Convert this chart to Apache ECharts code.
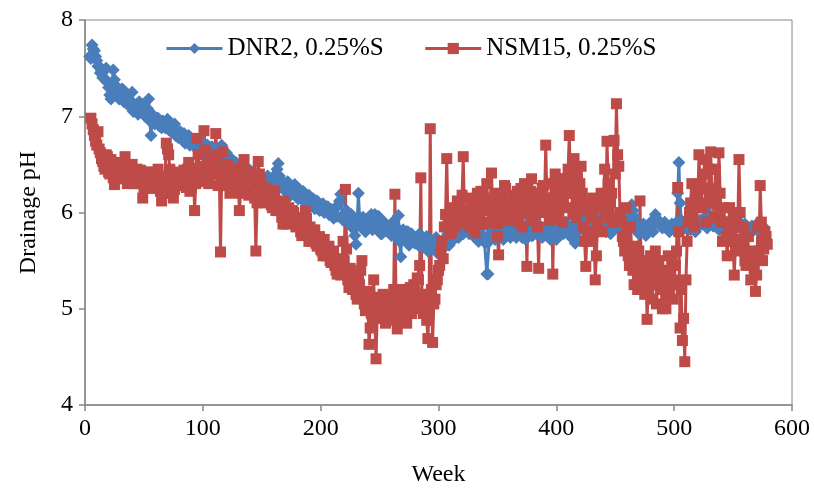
<!DOCTYPE html>
<html><head><meta charset="utf-8">
<script src="https://cdn.jsdelivr.net/npm/echarts@6/dist/echarts.min.js"></script>
<style>html,body{margin:0;padding:0;background:#fff}#c{width:814px;height:492px}</style>
</head><body><div id="c"></div>
<script>
const seriesNames = ['DNR2, 0.25%S', 'NSM15, 0.25%S'];
const xTicks = [0, 100, 200, 300, 400, 500, 600];
const yTicks = [4, 5, 6, 7, 8];
// weekly records: first week of each record, one value per week
const dnrFirstWeek = 4;
const nsmFirstWeek = 5;
const dnr2 = [
7.62,7.60,7.74,7.70,7.68,7.62,7.58,7.52,7.52,7.45,7.47,7.40,7.40,7.48,7.50,7.35,7.30,7.22,7.18,7.30,
7.48,7.38,7.32,7.25,7.25,7.18,7.20,7.28,7.28,7.15,7.15,7.24,7.22,7.12,7.10,7.16,7.25,7.05,7.12,7.08,
7.08,7.02,7.15,7.06,7.05,7.12,7.10,7.00,7.00,7.08,7.18,6.95,6.80,7.02,7.00,6.92,6.95,6.98,6.98,6.90,
6.92,6.88,6.95,6.90,6.88,6.94,6.97,6.86,6.90,6.84,6.85,6.90,6.92,6.80,6.83,6.78,6.80,6.84,6.78,6.75,
6.82,6.72,6.75,6.78,6.80,6.70,6.72,6.76,6.76,6.68,6.70,6.74,6.74,6.66,6.68,6.72,6.72,6.64,6.66,6.70,
6.70,6.62,6.64,6.68,6.68,6.58,6.60,6.65,6.66,6.56,6.58,6.62,6.70,6.52,6.55,6.60,6.62,6.48,6.50,6.56,
6.56,6.46,6.48,6.52,6.52,6.42,6.45,6.50,6.50,6.40,6.42,6.47,6.46,6.36,6.40,6.44,6.44,6.32,6.36,6.30,
6.30,6.36,6.38,6.28,6.32,6.35,6.28,6.24,6.34,6.30,6.30,6.38,6.36,6.22,6.26,6.30,6.32,6.28,6.40,6.45,
6.51,6.38,6.34,6.26,6.28,6.24,6.22,6.30,6.32,6.16,6.18,6.26,6.25,6.20,6.29,6.22,6.20,6.14,6.24,6.18,
6.15,6.22,6.20,6.10,6.12,6.16,6.18,6.06,6.08,6.14,6.14,6.04,6.05,6.12,6.10,6.02,6.04,6.08,6.09,6.00,
6.02,6.05,6.06,5.98,6.00,6.03,5.98,5.94,6.04,5.96,5.96,6.08,6.12,6.19,6.19,5.92,5.95,6.00,6.02,5.90,
5.92,5.96,5.98,5.84,5.88,5.76,5.67,5.90,6.20,5.95,5.85,5.90,5.95,5.82,5.80,5.92,5.90,5.86,5.95,5.98,
5.82,5.92,5.98,5.86,5.88,5.96,5.94,5.78,5.78,5.88,5.90,5.82,5.84,5.80,5.80,5.86,5.76,5.90,5.85,5.80,
5.78,5.84,5.97,5.70,5.54,5.78,5.82,5.72,5.74,5.80,5.80,5.66,5.70,5.78,5.76,5.70,5.68,5.74,5.72,5.66,
5.78,5.72,5.70,5.64,5.65,5.72,5.75,5.60,5.62,5.70,5.70,5.64,5.66,5.72,5.74,5.58,5.60,5.66,5.68,5.62,
5.72,5.68,5.65,5.72,5.78,5.66,5.70,5.76,5.82,5.72,5.75,5.80,5.85,5.74,5.78,5.84,5.88,5.78,5.80,5.86,
5.86,5.80,5.78,5.88,5.92,5.80,5.75,5.82,5.80,5.72,5.70,5.78,5.84,5.74,5.76,5.70,5.68,5.36,5.36,5.70,
5.78,5.82,5.85,5.76,5.72,5.78,5.80,5.84,5.88,5.80,5.76,5.72,5.82,5.86,5.90,5.82,5.78,5.74,5.84,5.80,
5.80,5.76,5.74,5.82,5.86,5.80,5.78,5.74,5.82,5.78,5.72,5.80,5.88,5.84,5.80,5.76,5.76,5.82,5.84,5.78,
5.78,5.82,5.86,5.80,5.74,5.78,5.80,5.86,5.84,5.78,5.76,5.72,5.82,5.86,5.88,5.80,5.72,5.76,5.80,5.84,
5.85,5.80,5.78,5.84,5.90,5.86,5.82,5.76,5.75,5.80,5.86,5.72,5.68,5.74,5.80,5.88,5.95,6.00,6.05,5.98,
5.92,5.96,6.00,5.94,5.88,5.95,6.08,6.02,6.12,6.04,5.96,5.92,5.90,5.86,5.84,5.88,5.88,5.82,5.80,5.84,
5.86,5.82,5.78,5.86,5.92,5.88,5.84,5.88,5.90,5.86,5.82,5.90,5.95,5.90,5.88,5.90,5.92,5.96,6.00,6.04,
6.08,6.02,5.96,5.90,5.85,5.80,5.78,5.80,5.82,5.86,5.88,5.82,5.76,5.80,5.84,5.88,5.90,5.86,5.80,5.92,
5.98,5.94,5.92,5.88,5.88,5.86,5.84,5.88,5.90,5.84,5.86,5.82,5.80,5.84,5.88,5.86,5.82,5.86,5.90,6.20,
6.52,6.10,5.92,5.88,5.86,5.84,5.84,5.88,5.90,5.86,5.82,5.86,5.88,5.84,5.80,5.84,5.86,5.90,5.92,5.88,
5.88,5.92,5.95,5.88,5.84,5.92,6.08,5.96,5.90,5.86,5.86,5.90,5.92,5.86,5.82,5.86,5.88,5.84,5.84,5.88,
5.90,5.86,5.86,5.82,5.80,5.84,5.88,5.86,5.84,5.88,5.92,5.88,5.86,5.82,5.82,5.86,5.88,5.84,5.84,5.82,
5.80,5.84,5.86,5.82,5.82,5.86,5.88,5.84,5.84,5.82,5.80,5.83,5.85
];
const nsm15 = [
6.98,6.92,6.86,6.80,6.74,6.70,6.84,6.66,6.62,6.56,6.53,6.48,6.45,6.60,6.58,6.42,6.40,6.55,6.50,6.36,
6.29,6.38,6.45,6.52,6.38,6.44,6.52,6.35,6.42,6.58,6.35,6.30,6.48,6.40,6.43,6.50,6.30,6.36,6.40,6.45,
6.36,6.30,6.44,6.38,6.15,6.25,6.38,6.42,6.30,6.36,6.42,6.32,6.25,6.40,6.35,6.28,6.40,6.45,6.32,6.22,
6.12,6.20,6.30,6.38,6.72,6.66,6.60,6.45,6.20,6.28,6.15,6.24,6.34,6.42,6.40,6.30,6.28,6.36,6.36,6.44,
6.30,6.26,6.45,6.52,6.22,6.30,6.38,6.46,6.02,6.30,6.77,6.60,6.35,6.42,6.48,6.32,6.85,6.65,6.40,6.34,
6.30,6.45,6.55,6.40,6.42,6.50,6.82,6.60,6.28,6.40,5.59,6.35,6.63,6.48,6.35,6.28,6.50,6.44,6.20,6.32,
6.45,6.36,6.38,6.30,6.25,6.34,6.02,6.20,6.40,6.48,6.55,6.38,6.30,6.22,6.18,6.26,6.42,6.35,6.28,6.15,
5.60,6.10,6.53,6.40,6.35,6.28,6.20,6.15,6.10,6.22,6.25,6.12,6.15,6.08,6.05,6.14,6.22,6.02,6.10,6.06,
6.02,6.10,5.95,5.88,6.12,6.04,5.88,5.96,6.05,5.94,5.92,6.02,6.00,5.90,5.85,5.92,5.95,5.86,5.80,5.76,
5.90,5.84,6.02,5.94,5.78,5.70,5.85,5.80,5.70,5.76,5.82,5.68,5.65,5.72,5.75,5.62,5.60,5.55,5.72,5.64,
5.55,5.62,5.65,5.50,5.48,5.58,5.60,5.45,5.40,5.36,5.52,5.44,5.35,5.42,5.70,5.50,6.24,5.62,5.30,5.22,
5.42,5.32,5.20,5.28,5.35,5.15,5.10,5.22,5.25,5.40,5.50,5.12,5.05,4.98,5.18,5.08,4.63,4.80,4.95,5.02,
5.30,4.90,4.48,4.96,5.05,5.12,4.90,5.00,5.15,5.08,4.85,4.92,5.00,5.10,5.12,4.95,4.88,5.20,6.19,5.00,
4.79,4.92,5.05,5.15,4.92,4.86,5.20,5.10,4.85,5.00,5.10,5.22,4.95,5.05,5.25,5.18,5.00,5.32,5.30,5.45,
6.36,5.10,4.95,5.05,5.15,4.88,4.69,5.00,6.87,5.20,4.65,5.05,5.10,5.25,5.30,5.40,5.45,5.60,5.70,5.52,
5.85,5.98,6.56,5.90,5.95,5.78,5.80,6.00,6.05,5.85,5.90,6.12,6.10,5.92,6.00,6.18,6.58,6.02,5.95,5.88,
6.15,6.00,5.85,6.08,6.05,5.90,5.79,6.12,6.20,5.96,5.95,6.22,6.10,5.88,6.02,6.15,6.30,6.05,5.90,6.10,
6.41,6.00,6.05,6.20,5.88,5.75,5.56,5.90,6.15,6.08,6.00,6.28,6.25,5.94,5.92,6.12,6.08,5.98,6.18,6.02,
5.95,6.10,6.22,5.90,6.05,6.25,5.85,6.00,6.30,6.15,5.44,6.05,6.10,6.22,6.35,5.92,5.98,6.12,6.20,5.85,
5.42,6.00,6.05,6.25,6.28,6.10,6.70,6.15,6.00,5.92,6.15,6.30,5.36,6.05,6.40,6.22,6.10,5.95,6.25,6.35,
5.90,6.10,6.35,6.20,6.05,6.45,6.80,6.30,6.20,5.98,6.56,6.40,5.95,6.05,6.10,6.30,6.48,6.20,5.85,5.70,
5.44,5.80,6.00,6.10,5.70,5.95,6.15,5.80,5.30,5.55,5.90,6.05,6.05,6.20,5.80,6.10,6.45,6.00,6.74,6.30,
5.95,6.10,6.20,5.90,6.75,6.40,7.13,6.60,6.48,6.00,5.90,5.75,5.70,5.60,6.05,5.85,5.55,5.45,5.85,5.60,
5.40,5.25,5.65,5.50,5.20,5.60,6.12,5.40,5.50,5.30,5.15,5.45,4.89,5.20,5.45,5.55,5.10,5.30,5.35,5.60,
5.05,5.25,5.50,5.35,5.20,5.00,5.40,5.30,5.00,5.20,5.55,5.35,5.25,5.50,5.10,5.30,5.45,5.60,6.26,5.80,
4.80,5.20,4.67,4.90,4.45,5.30,5.70,5.90,6.00,6.10,6.30,5.95,5.85,6.20,6.15,6.05,6.60,6.30,6.05,6.25,
6.40,6.55,5.90,6.10,6.25,6.45,6.63,6.20,6.10,5.95,6.45,6.20,5.95,6.62,6.20,5.90,5.70,6.05,5.90,5.75,
5.55,5.80,6.05,5.90,5.80,5.70,5.35,5.65,5.95,5.85,6.55,6.00,5.60,5.72,5.85,5.50,5.45,5.75,5.75,5.55,
5.30,5.50,5.60,5.40,5.18,5.35,5.85,5.60,6.28,5.90,5.50,5.62,5.80,5.75,5.67
];
const toPairs = (vals, w0) => vals.map((v, i) => [w0 + i, v]);
const FONT = '"Liberation Serif", "Times New Roman", serif';
const AX = '#868686';
const BLUE = '#4A7EBB', RED = '#BE4B48';
const chart = echarts.init(document.getElementById('c'), null, {renderer: 'canvas'});
chart.setOption({
  animation: false,
  backgroundColor: '#fff',
  grid: {left: 85, right: 22, top: 20, bottom: 82, show: true, borderColor: AX, borderWidth: 1},
  legend: {
    top: 31, left: 160, itemGap: 40, itemWidth: 56, itemHeight: 14,
    lineStyle: {width: 3},
    textStyle: {fontFamily: FONT, fontSize: 25, color: '#000'},
    data: seriesNames
  },
  xAxis: {
    type: 'value', min: xTicks[0], max: xTicks[xTicks.length - 1], interval: 100,
    name: 'Week', nameLocation: 'middle', nameGap: 58,
    nameTextStyle: {fontFamily: FONT, fontSize: 24, color: '#000'},
    axisLine: {show: true, lineStyle: {color: AX, width: 1.5}},
    axisTick: {show: true, length: 6, lineStyle: {color: AX, width: 1.5}},
    axisLabel: {fontFamily: FONT, fontSize: 24, color: '#000', margin: 12},
    splitLine: {show: false}
  },
  yAxis: {
    type: 'value', min: yTicks[0], max: yTicks[yTicks.length - 1], interval: 1,
    name: 'Drainage pH', nameLocation: 'middle', nameGap: 44,
    nameTextStyle: {fontFamily: FONT, fontSize: 24, color: '#000'},
    axisLine: {show: true, lineStyle: {color: AX, width: 1.5}},
    axisTick: {show: true, length: 6, lineStyle: {color: AX, width: 1.5}},
    axisLabel: {fontFamily: FONT, fontSize: 24, color: '#000', margin: 12},
    splitLine: {show: false}
  },
  series: [
    {
      name: seriesNames[0], type: 'line', data: toPairs(dnr2, dnrFirstWeek),
      symbol: 'diamond', symbolSize: 13, showAllSymbol: true,
      lineStyle: {color: BLUE, width: 3}, itemStyle: {color: BLUE}
    },
    {
      name: seriesNames[1], type: 'line', data: toPairs(nsm15, nsmFirstWeek),
      symbol: 'rect', symbolSize: 11, showAllSymbol: true,
      lineStyle: {color: RED, width: 3}, itemStyle: {color: RED}
    }
  ]
});
</script></body></html>
